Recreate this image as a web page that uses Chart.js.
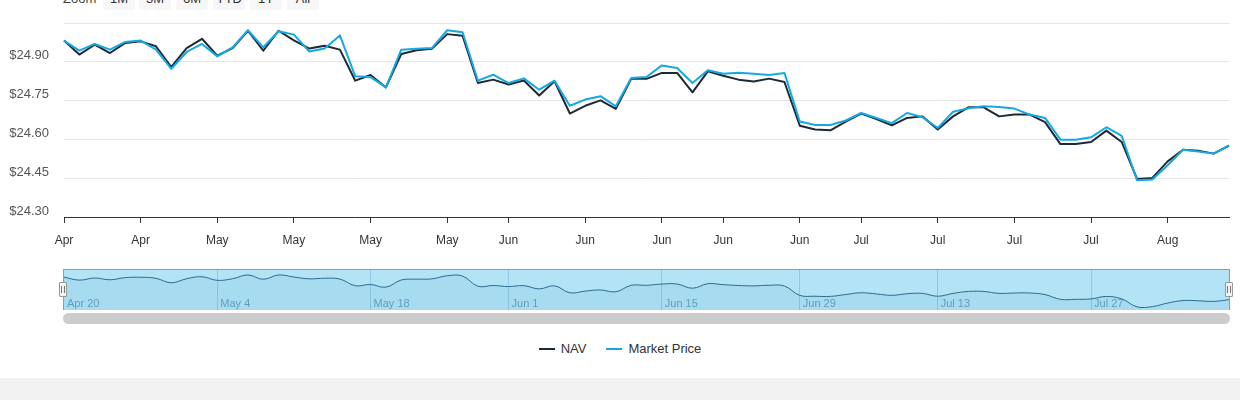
<!DOCTYPE html>
<html lang="en">
<head>
    <meta charset="UTF-8">
    <title>NAV vs Market Price</title>
    <!-- Chart.js -->
    <script src="https://cdn.jsdelivr.net/npm/chart.js@4"></script>
    <style>
        body {
            margin: 0;
            width: 1240px;
            height: 400px;
            overflow: hidden;
            background: #fff;
            position: relative;
            font-family: "Liberation Sans", Arial, sans-serif;
        }
        /* Zoom-Knöpfe oben (halb abgeschnitten) */
        #range { position: absolute; top: -12px; left: 63px; height: 22px; font-size: 13px; }
        #range .lbl { position: absolute; left: 0; top: 0; line-height: 22px; color: #444; }
        #range .btn {
            position: absolute; top: 0; width: 32px; height: 22px; line-height: 22px;
            text-align: center; background: #f7f7f7; border-radius: 2px; color: #333;
        }
        #mainCanvas { position: absolute; left: 0; top: 0; }
        /* Navigator */
        #navBox {
            position: absolute; left: 63px; top: 269px; width: 1167px; height: 41px;
            box-sizing: border-box; background: #b2e4f6;
            border-top: 1px solid #999; border-left: 1px solid #999; border-right: 1px solid #999;
        }
        #navCanvas { position: absolute; left: 0; top: 270px; }
        .handle {
            position: absolute; top: 282px; width: 8px; height: 15px; box-sizing: border-box;
            background: #f2f2f2; border: 1px solid #999; border-radius: 1px;
        }
        .handle div {
            position: absolute; left: 1px; top: 3px; width: 2px; height: 7px;
            border-left: 1px solid #777; border-right: 1px solid #777;
        }
        #scroll {
            position: absolute; left: 63px; top: 313px; width: 1167px; height: 11px;
            background: #ccc; border-radius: 6px;
        }
        #legend {
            position: absolute; left: 0; top: 340px; width: 1240px; text-align: center;
            font-size: 13px; color: #333; line-height: 18px;
        }
        #legend .item { display: inline-block; margin: 0 10px; }
        #legend .sw { display: inline-block; width: 16px; height: 2px; vertical-align: middle; margin-right: 6px; position: relative; top: -1px; }
        #footer { position: absolute; left: 0; top: 378px; width: 1240px; height: 22px; background: #f2f2f2; }
    </style>
</head>
<body>
    <div id="range">
        <span class="lbl">Zoom</span>
        <span class="btn" style="left:40px">1M</span>
        <span class="btn" style="left:76px">3M</span>
        <span class="btn" style="left:113px">6M</span>
        <span class="btn" style="left:150px">YTD</span>
        <span class="btn" style="left:187px">1Y</span>
        <span class="btn" style="left:224px">All</span>
    </div>

    <canvas id="mainCanvas" width="1240" height="260"></canvas>

    <div id="navBox"></div>
    <canvas id="navCanvas" width="1240" height="40"></canvas>
    <div class="handle" style="left:59px"><div></div></div>
    <div class="handle" style="left:1225px"><div></div></div>
    <div id="scroll"></div>

    <div id="legend"></div>
    <div id="footer"></div>

    <script>
        // Handelstage (2026)
        const dates = [
            '04-20', '04-21', '04-22', '04-23', '04-24',
            '04-27', '04-28', '04-29', '04-30', '05-01',
            '05-04', '05-05', '05-06', '05-07', '05-08',
            '05-11', '05-12', '05-13', '05-14', '05-15',
            '05-18', '05-19', '05-20', '05-21', '05-22',
            '05-26', '05-27', '05-28', '05-29',
            '06-01', '06-02', '06-03', '06-04', '06-05',
            '06-08', '06-09', '06-10', '06-11', '06-12',
            '06-15', '06-16', '06-17', '06-18',
            '06-22', '06-23', '06-24', '06-25', '06-26',
            '06-29', '06-30', '07-01', '07-02',
            '07-06', '07-07', '07-08', '07-09', '07-10',
            '07-13', '07-14', '07-15', '07-16', '07-17',
            '07-20', '07-21', '07-22', '07-23', '07-24',
            '07-27', '07-28', '07-29', '07-30', '07-31',
            '08-03', '08-04', '08-05', '08-06', '08-07'
        ];

        const nav = [
            24.982, 24.928, 24.966, 24.934, 24.973,
            24.979, 24.960, 24.880, 24.953, 24.989,
            24.924, 24.953, 25.020, 24.943, 25.020,
            24.983, 24.951, 24.962, 24.947, 24.827,
            24.849, 24.801, 24.930, 24.945, 24.950,
            25.007, 25.001, 24.818, 24.831,
            24.812, 24.828, 24.770, 24.825, 24.700,
            24.730, 24.751, 24.718, 24.834, 24.834,
            24.857, 24.857, 24.782, 24.863,
            24.846, 24.831, 24.824, 24.835, 24.822,
            24.653, 24.638, 24.635, 24.669,
            24.700, 24.679, 24.654, 24.683, 24.689,
            24.638, 24.689, 24.724, 24.724, 24.689,
            24.696, 24.696, 24.667, 24.582, 24.582,
            24.590, 24.634, 24.590, 24.447, 24.451,
            24.515, 24.560, 24.556, 24.545, 24.576
        ];

        const marketPrice = [
            24.982, 24.943, 24.969, 24.947, 24.977,
            24.982, 24.947, 24.873, 24.938, 24.969,
            24.921, 24.956, 25.022, 24.956, 25.018,
            25.005, 24.940, 24.951, 25.002, 24.844,
            24.841, 24.801, 24.947, 24.950, 24.953,
            25.022, 25.014, 24.827, 24.850,
            24.818, 24.836, 24.792, 24.827, 24.730,
            24.754, 24.767, 24.728, 24.837, 24.841,
            24.886, 24.876, 24.818, 24.867,
            24.854, 24.858, 24.854, 24.849, 24.857,
            24.669, 24.656, 24.656, 24.673,
            24.702, 24.683, 24.663, 24.702, 24.686,
            24.644, 24.707, 24.720, 24.728, 24.725,
            24.719, 24.696, 24.683, 24.599, 24.599,
            24.608, 24.647, 24.614, 24.442, 24.445,
            24.500, 24.560, 24.553, 24.545, 24.577
        ];

        // Achsenbeschriftungen
        const yTicks = [24.30, 24.45, 24.60, 24.75, 24.90, 25.05];
        const mainTickDates = ['04-20', '04-27', '05-04', '05-11', '05-18', '05-26', '06-01', '06-08',
                               '06-15', '06-22', '06-29', '07-06', '07-13', '07-20', '07-27', '08-03'];
        const mainTickText = ['Apr', 'Apr', 'May', 'May', 'May', 'May', 'Jun', 'Jun',
                              'Jun', 'Jun', 'Jun', 'Jul', 'Jul', 'Jul', 'Jul', 'Aug'];
        const navTickDates = ['04-20', '05-04', '05-18', '06-01', '06-15', '06-29', '07-13', '07-27'];
        const navTickText = ['Apr 20', 'May 4', 'May 18', 'Jun 1', 'Jun 15', 'Jun 29', 'Jul 13', 'Jul 27'];

        const FONT = '"Liberation Sans", Arial, sans-serif';
        const navColor = '#1d2a36';
        const priceColor = '#14a9e3';

        function mainLabel(i) {
            const k = mainTickDates.indexOf(dates[i]);
            return k < 0 ? '' : mainTickText[k];
        }
        function navLabel(i) {
            const k = navTickDates.indexOf(dates[i]);
            return k < 0 ? '' : navTickText[k];
        }

        // Hauptgraph
        const mainChart = new Chart(document.getElementById('mainCanvas'), {
            type: 'line',
            data: {
                labels: dates,
                datasets: [{
                    label: 'NAV',
                    data: nav,
                    borderColor: navColor,
                    backgroundColor: navColor,
                    borderWidth: 2,
                    pointRadius: 0,
                    tension: 0,
                    borderJoinStyle: 'round',
                    order: 1
                }, {
                    label: 'Market Price',
                    data: marketPrice,
                    borderColor: priceColor,
                    backgroundColor: priceColor,
                    borderWidth: 2,
                    pointRadius: 0,
                    tension: 0,
                    borderJoinStyle: 'round',
                    order: 0
                }]
            },
            options: {
                responsive: false,
                animation: false,
                events: [],
                layout: { padding: { top: 23, right: 11, left: 0, bottom: 0 } },
                plugins: { legend: { display: false }, tooltip: { enabled: false } },
                scales: {
                    x: {
                        type: 'category',
                        offset: false,
                        afterFit: s => { s.height = 43; },
                        border: { color: '#333', width: 1 },
                        grid: {
                            drawOnChartArea: false,
                            tickLength: 6,
                            tickColor: ctx => mainLabel(ctx.index) ? '#333' : 'rgba(0,0,0,0)'
                        },
                        ticks: {
                            autoSkip: false,
                            maxRotation: 0,
                            padding: 10,
                            color: '#333',
                            font: { family: FONT, size: 12 },
                            callback: (v, i) => mainLabel(i)
                        }
                    },
                    y: {
                        min: 24.30,
                        max: 25.05,
                        afterFit: s => { s.width = 64; },
                        afterBuildTicks: s => { s.ticks = yTicks.map(v => ({ value: v })); },
                        border: { display: false },
                        grid: {
                            drawTicks: false,
                            color: ctx => ctx.index === 0 ? 'rgba(0,0,0,0)' : '#e6e6e6'
                        },
                        ticks: {
                            padding: 15,
                            labelOffset: -6,
                            color: '#555',
                            font: { family: FONT, size: 13 },
                            callback: v => v >= 25.04 ? '' : '$' + v.toFixed(2)
                        }
                    }
                }
            }
        });

        // Navigator unten
        const navChart = new Chart(document.getElementById('navCanvas'), {
            type: 'line',
            data: {
                labels: dates,
                datasets: [{
                    label: 'NAV',
                    data: nav,
                    borderColor: '#2c6b8e',
                    borderWidth: 1,
                    backgroundColor: 'rgba(0, 80, 130, 0.06)',
                    fill: 'start',
                    pointRadius: 0,
                    tension: 0.4
                }]
            },
            options: {
                responsive: false,
                animation: false,
                events: [],
                layout: { padding: { top: 0, right: 11, left: 64, bottom: 0 } },
                plugins: { legend: { display: false }, tooltip: { enabled: false } },
                scales: {
                    x: {
                        type: 'category',
                        offset: false,
                        afterFit: s => { s.height = 0; },
                        border: { display: false },
                        grid: {
                            drawTicks: false,
                            color: ctx => (ctx.index > 0 && navLabel(ctx.index)) ? 'rgba(90, 150, 185, 0.35)' : 'rgba(0,0,0,0)'
                        },
                        ticks: {
                            // Beschriftung innerhalb des Navigators
                            mirror: true,
                            autoSkip: false,
                            maxRotation: 0,
                            align: 'start',
                            padding: -1,
                            labelOffset: 3,
                            color: '#6b9fc2',
                            font: { family: FONT, size: 11 },
                            callback: (v, i) => navLabel(i)
                        }
                    },
                    y: {
                        display: false,
                        min: 24.39,
                        max: 25.11
                    }
                }
            }
        });

        // Legende aus den Datensätzen bauen
        const legend = document.getElementById('legend');
        mainChart.data.datasets.forEach(ds => {
            const item = document.createElement('span');
            item.className = 'item';
            item.innerHTML = '<span class="sw" style="background:' + ds.borderColor + '"></span>' + ds.label;
            legend.appendChild(item);
        });
    </script>
</body>
</html>
